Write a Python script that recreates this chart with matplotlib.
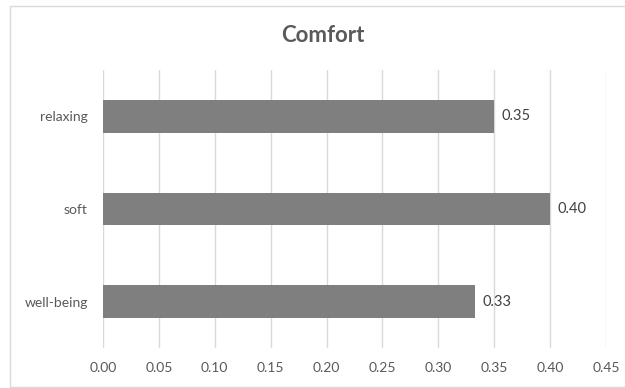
import matplotlib
matplotlib.use("Agg")
import matplotlib.pyplot as plt
from matplotlib.patches import Rectangle

categories = ["relaxing", "soft", "well-being"]
values = [0.35, 0.40, 0.333]
x_ticks = [0.00, 0.05, 0.10, 0.15, 0.20, 0.25, 0.30, 0.35, 0.40, 0.45]
title = "Comfort"

plt.rcParams["font.family"] = ["Lato", "DejaVu Sans"]

fig = plt.figure(figsize=(6.25, 3.88), dpi=100)
fig.patch.set_facecolor("white")

# chart frame
fig.add_artist(Rectangle((10 / 625, 1 / 388), 1.0, 1 - 7 / 388,
                         transform=fig.transFigure, fill=False,
                         edgecolor="#d9d9d9", linewidth=1.0))

ax = fig.add_axes([103 / 625, 1 - 348 / 388, 503 / 625, 278 / 388])
ax.set_facecolor("white")

ypos = list(range(len(categories)))[::-1]
bars = ax.barh(ypos, values, height=0.35, color="#7f7f7f", zorder=3)

for y, v in zip(ypos, values):
    ax.annotate(f"{v:.2f}", xy=(v, y), xytext=(5, 0), textcoords="offset points",
                va="center", ha="left", fontsize=10.5, color="#404040")

ax.set_xlim(0, 0.45)
ax.set_ylim(-0.5, len(categories) - 0.5)
ax.set_xticks(x_ticks)
ax.set_xticklabels([f"{t:.2f}" for t in x_ticks])
ax.set_yticks(ypos)
ax.set_yticklabels(categories)
ax.tick_params(axis="both", length=0, labelsize=10, labelcolor="#595959")
ax.tick_params(axis="x", pad=10)
ax.tick_params(axis="y", pad=11)
ax.grid(axis="x", color="#d9d9d9", linewidth=1.0, zorder=0)
ax.grid(axis="y", visible=False)
for s in ax.spines.values():
    s.set_visible(False)

fig.text(322.5 / 625, 1 - 35.5 / 388, title, ha="center", va="center",
         fontsize=16, fontweight="bold", color="#595959")

fig.savefig("out.png", dpi=100, facecolor="white")
